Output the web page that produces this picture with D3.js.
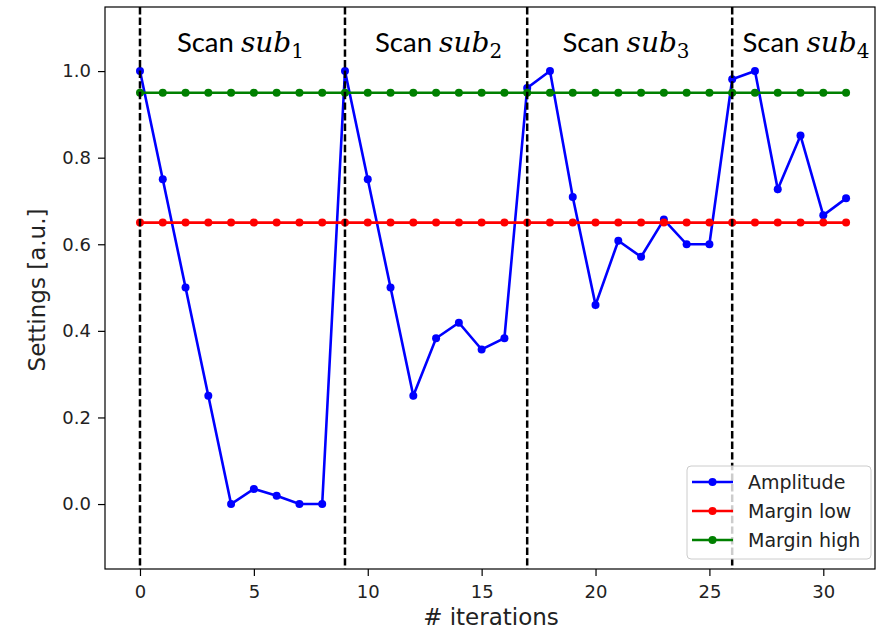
<!DOCTYPE html>
<html><head><meta charset="utf-8">
<script src="https://cdn.jsdelivr.net/npm/d3@7"></script>
<style>body{margin:0;background:#fff}</style>
</head><body><svg id="c" width="879" height="632"></svg>
<script>
const iterations = d3.range(0, 32);
const amplitude = [1.0,0.75,0.5,0.25,0.0,0.035,0.019,0.0,0.0,
  1.0,0.75,0.5,0.25,0.383,0.419,0.357,0.383,
  0.961,1.0,0.709,0.46,0.608,0.571,0.657,0.6,0.6,
  0.981,1.0,0.727,0.851,0.667,0.706];
const marginLow = iterations.map(() => 0.65);
const marginHigh = iterations.map(() => 0.95);
const scanStarts = [0, 9, 17, 26];
const scanLabels = ["1","2","3","4"];
const scanLabelX = [1.62, 10.32, 18.55, 26.45];
const xTicks = [0,5,10,15,20,25,30];
const yTicks = [0.0,0.2,0.4,0.6,0.8,1.0];
const seriesNames = ["Amplitude","Margin low","Margin high"];
const seriesColors = ["#0000ff","#ff0000","#008000"];

const L=105,R=875,T=7,B=569;
const svg = d3.select("#c");
const x = d3.scaleLinear().domain([-1.536, 32.27]).range([L,R]);
const y = d3.scaleLinear().domain([-0.15, 1.148]).range([B,T]);

const tickFont = "DejaVu Sans";
const xa = svg.append("g").attr("transform",`translate(0,${B})`)
  .call(d3.axisBottom(x).tickValues(xTicks).tickFormat(d3.format("d")).tickSize(7).tickPadding(7));
const ya = svg.append("g").attr("transform",`translate(${L},0)`)
  .call(d3.axisLeft(y).tickValues(yTicks).tickFormat(d3.format(".1f")).tickSize(7).tickPadding(7));
[xa,ya].forEach(g=>{
  g.select(".domain").remove();
  g.selectAll("line").attr("stroke","#000").attr("stroke-width",1.2);
  g.selectAll("text").attr("font-family",tickFont).attr("font-size",18).attr("fill","#222");
});
xa.selectAll("text").attr("dy","0.85em");

const plot = svg.append("g");
const line = d3.line().x((d,i)=>x(iterations[i])).y(d=>y(d));
[amplitude, marginLow, marginHigh].forEach((s,k)=>{
  plot.append("path").attr("d",line(s)).attr("fill","none")
    .attr("stroke",seriesColors[k]).attr("stroke-width",2.6);
  plot.selectAll(null).data(s).enter().append("circle")
    .attr("cx",(d,i)=>x(iterations[i])).attr("cy",d=>y(d)).attr("r",4)
    .attr("fill",seriesColors[k]);
});

svg.selectAll(null).data(scanStarts).enter().append("line")
  .attr("x1",d=>x(d)).attr("x2",d=>x(d)).attr("y1",T).attr("y2",B)
  .attr("stroke","#000").attr("stroke-width",2.5).attr("stroke-dasharray","7.4,3.2");

svg.append("rect").attr("x",L).attr("y",T).attr("width",R-L).attr("height",B-T)
  .attr("fill","none").attr("stroke","#000").attr("stroke-width",1.2);

scanLabels.forEach((s,i)=>{
  const t = svg.append("text").attr("x",x(scanLabelX[i])).attr("y",y(1.045)).attr("fill","#000");
  t.append("tspan").attr("font-family","Lato").attr("font-size",27.5).text("Scan ");
  t.append("tspan").attr("font-family","DejaVu Serif").attr("font-style","italic").attr("font-size",28).text("sub");
  t.append("tspan").attr("font-family","DejaVu Serif").attr("font-size",20).attr("dy",6).text(s);
});

svg.append("text").attr("x",(L+R)/2+1).attr("y",625).attr("text-anchor","middle")
  .attr("font-family",tickFont).attr("font-size",23).attr("fill","#222").text("# iterations");
svg.append("text").attr("transform",`translate(45,${(T+B)/2+2}) rotate(-90)`).attr("text-anchor","middle")
  .attr("font-family",tickFont).attr("font-size",23).attr("fill","#222").text("Settings [a.u.]");

const lg = svg.append("g");
lg.append("rect").attr("x",687).attr("y",466).attr("width",184).attr("height",93).attr("rx",4)
  .attr("fill","#fff").attr("fill-opacity",0.8).attr("stroke","#ccc").attr("stroke-width",1);
seriesNames.forEach((n,k)=>{
  const yy = 482 + k*29;
  lg.append("line").attr("x1",692).attr("x2",733).attr("y1",yy).attr("y2",yy)
    .attr("stroke",seriesColors[k]).attr("stroke-width",2.6);
  lg.append("circle").attr("cx",712.5).attr("cy",yy).attr("r",4).attr("fill",seriesColors[k]);
  lg.append("text").attr("x",748).attr("y",yy).attr("dy","0.36em").attr("font-family",tickFont)
    .attr("font-size",19).attr("fill","#222").text(n);
});
</script></body></html>
